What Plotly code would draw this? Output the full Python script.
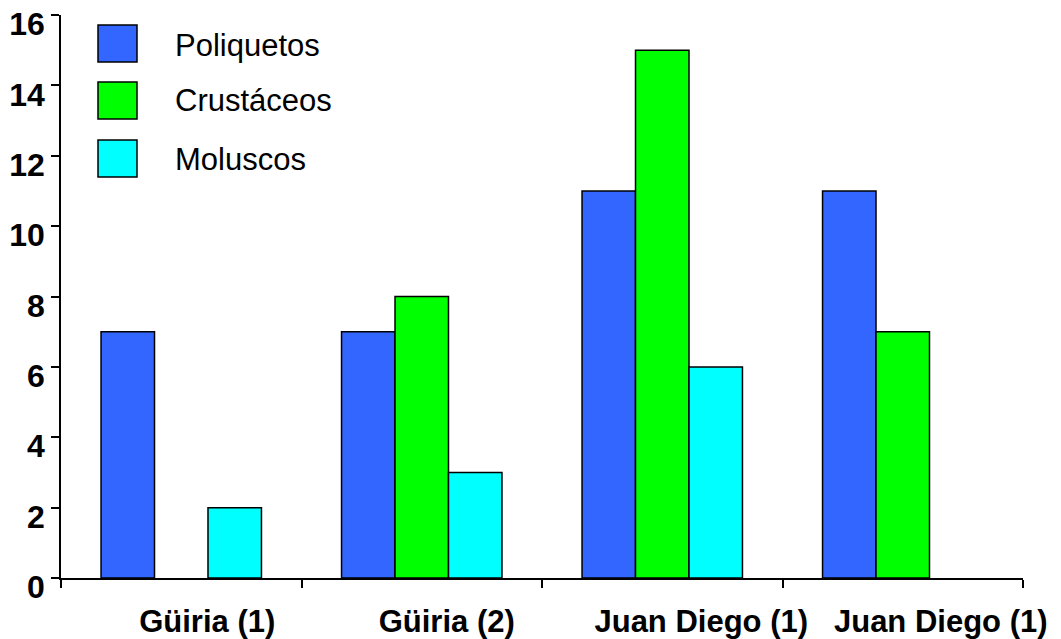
import plotly.graph_objects as go

categories = ["Güiria (1)", "Güiria (2)", "Juan Diego (1)", "Juan Diego (1)"]
series_names = ["Poliquetos", "Crustáceos", "Moluscos"]
poliquetos = [7, 7, 11, 11]
crustaceos = [None, 8, 15, 7]
moluscos = [2, 3, 6, None]
colors = ["#3366FF", "#00FF00", "#00FFFF"]
y_ticks = [0, 2, 4, 6, 8, 10, 12, 14, 16]

# style: horizontal shift (px) of category labels relative to group centre
label_shift_px = [26, 25, 39, 38]

W, H = 1061, 639
L, R, T, B = 61, 38, 15, 61
pw, ph = W - L - R, H - T - B
n = len(categories)
cat_px = pw / n

x_pos = list(range(n))
fig = go.Figure()
for name, vals, col in zip(series_names, [poliquetos, crustaceos, moluscos], colors):
    fig.add_trace(go.Bar(x=x_pos, y=vals, name=name, marker=dict(color=col, line=dict(color="black", width=1.5)),
                         showlegend=False))

font = "Liberation Sans, Arial, sans-serif"
fig.update_layout(
    width=W, height=H, margin=dict(l=L, r=R, t=T, b=B, autoexpand=False),
    paper_bgcolor="white", plot_bgcolor="white",
    barmode="group", bargap=0.333, bargroupgap=0,
    xaxis=dict(range=[-0.5, n - 0.5], tickmode="array",
               tickvals=[i + s / cat_px for i, s in zip(x_pos, label_shift_px)], ticktext=categories,
               ticks="", showgrid=False, zeroline=False, showline=True, linecolor="black", linewidth=1.5,
               automargin=False, ticklabeloverflow="allow",
               tickfont=dict(family=font, size=31, color="black", weight="bold"), ticklabelstandoff=15,
               minor=dict(tickmode="array", tickvals=[i - 0.5 for i in range(n + 1)],
                          ticks="outside", ticklen=8, tickcolor="black", tickwidth=1.5)),
    yaxis=dict(range=[0, 16.001], tickmode="array", tickvals=y_ticks, ticks="outside", ticklen=8, tickcolor="black",
               tickwidth=1.5, showgrid=False, zeroline=False, showline=True, linecolor="black", linewidth=1.5,
               automargin=False, ticklabeloverflow="allow", ticklabelshift=9,
               tickfont=dict(family=font, size=32, color="black", weight="bold"), ticklabelstandoff=0),
)

# legend drawn as swatches + labels
sw_x0, sw_x1 = 98, 137
rows = [(25, 62, 45), (82, 119, 101), (140, 177, 160)]
px = lambda x: (x - L) / pw
py = lambda y: (H - B - y) / ph
for (y0, y1, yc), name, col in zip(rows, series_names, colors):
    fig.add_shape(type="rect", xref="paper", yref="paper", x0=px(sw_x0), x1=px(sw_x1), y0=py(y1), y1=py(y0),
                  fillcolor=col, line=dict(color="black", width=1.5))
    fig.add_annotation(xref="paper", yref="paper", x=px(173), y=py(yc), text=name, showarrow=False,
                       xanchor="left", yanchor="middle", font=dict(family=font, size=31, color="black"))

fig.write_html("out.html", config={"displayModeBar": False},
               post_script="document.body.style.margin='0px';document.body.style.padding='0px';")
